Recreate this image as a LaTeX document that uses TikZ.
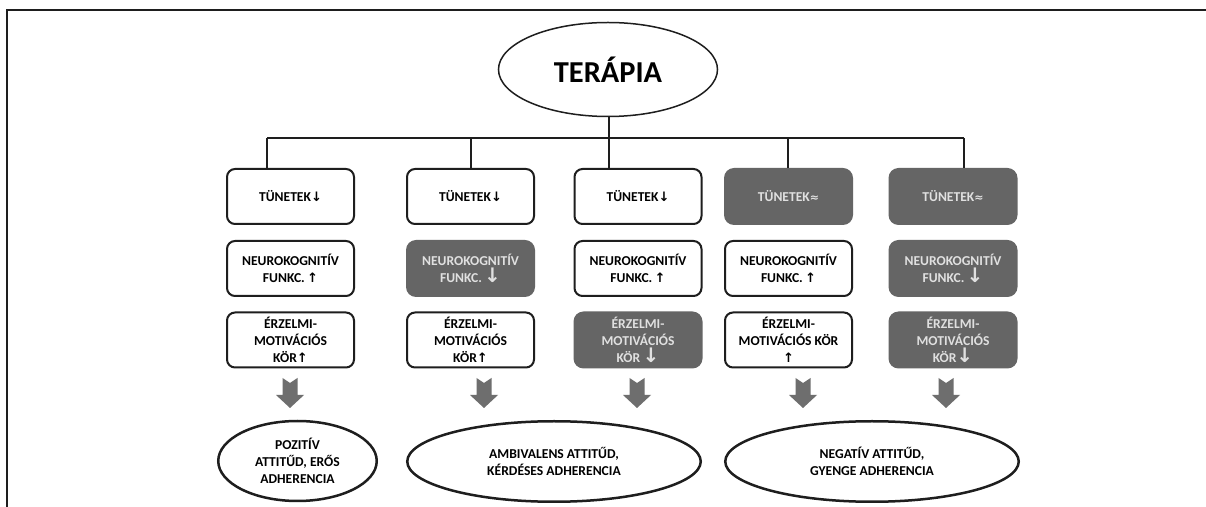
\documentclass[tikz,border=0pt]{standalone}
\usepackage{fontspec}
\setmainfont{Carlito}
\newfontfamily\symf{DejaVu Sans}
\usetikzlibrary{shapes.geometric}
\definecolor{darkfill}{HTML}{656565}
\definecolor{lightt}{HTML}{E0E0E0}
\definecolor{linec}{HTML}{1E1E1E}
\definecolor{arrowg}{HTML}{6E6E6E}
\newcommand\bxfont{\bfseries\fontsize{6.8pt}{8.5pt}\selectfont}
\newcommand\myup{{\symf\fontsize{6.5pt}{6.5pt}\selectfont ↑}}
\newcommand\mydn{{\symf\fontsize{6.5pt}{6.5pt}\selectfont ↓}}
\newcommand\mybigdn{{\symf\fontsize{10pt}{10pt}\selectfont ↓}}
\newcommand\myapprox{{\symf\fontsize{5.5pt}{5.5pt}\selectfont ≈}}
\tikzset{
  box/.style={rectangle, rounded corners=4pt, inner sep=1pt, align=center, font=\bxfont},
  wbox/.style={box, draw=linec, line width=1pt, fill=white, minimum width=63.5pt, minimum height=27.5pt},
  dbox/.style={box, fill=darkfill, text=lightt, rounded corners=5pt, minimum width=64.5pt, minimum height=28.5pt},
  conn/.style={draw=linec, line width=0.9pt},
  oval/.style={ellipse, draw=linec, line width=1.25pt, inner sep=0pt, align=center, font=\bxfont},
  barrow/.pic={\fill[arrowg] (-7.5,0) -- (0,5) -- (7.5,0) -- (7.5,17) -- (14,17) -- (0,30) -- (-14,17) -- (-7.5,17) -- cycle;}
}
\begin{document}
\begin{tikzpicture}[x=0.5pt,y=-0.5pt]
\useasboundingbox (0,0) rectangle (1206,507);
\fill[white] (0,0) rectangle (1206,507);
% frame
\draw[linec, line width=0.75pt] (7,507) -- (7,10) -- (1206,10);
% root
\node[ellipse, draw=linec, line width=0.75pt, inner sep=0pt, minimum width=109.5pt, minimum height=47pt,
      font=\bfseries\fontsize{15.2pt}{18pt}\selectfont] (t) at (608,69.5) {TERÁPIA};
% row 1
\node[wbox] (a1) at (290.5,196.5) {TÜNETEK\mydn};
\node[wbox] (a2) at (470.5,196.5) {TÜNETEK\mydn};
\node[wbox] (a3) at (638,196.5) {TÜNETEK\mydn};
\node[dbox] (a4) at (788.5,196.5) {TÜNETEK\myapprox};
\node[dbox] (a5) at (953,196.5) {TÜNETEK\myapprox};
% row 2
\node[wbox] (b1) at (290.5,268.5) {NEUROKOGNITÍV\\FUNKC.\,\myup};
\node[dbox] (b2) at (470.5,268.5) {NEUROKOGNITÍV\\FUNKC.\,\mybigdn};
\node[wbox] (b3) at (638,268.5) {NEUROKOGNITÍV\\FUNKC.\,\myup};
\node[wbox] (b4) at (788.5,268.5) {NEUROKOGNITÍV\\FUNKC.\,\myup};
\node[dbox] (b5) at (953,268.5) {NEUROKOGNITÍV\\FUNKC.\,\mybigdn};
% row 3
\node[wbox] (c1) at (290.5,340) {ÉRZELMI-\\MOTIVÁCIÓS\\KÖR\myup};
\node[wbox] (c2) at (470.5,340) {ÉRZELMI-\\MOTIVÁCIÓS\\KÖR\myup};
\node[dbox] (c3) at (638,340) {ÉRZELMI-\\MOTIVÁCIÓS\\KÖR\,\mybigdn};
\node[wbox] (c4) at (788.5,340) {ÉRZELMI-\\MOTIVÁCIÓS KÖR\\\myup};
\node[dbox] (c5) at (953,340) {ÉRZELMI-\\MOTIVÁCIÓS\\KÖR\mybigdn};
% outcomes
\node[oval, minimum width=79.25pt, minimum height=40pt] (e1) at (297.5,461) {POZITÍV\\ATTITŰD, ERŐS\\ADHERENCIA};
\node[oval, minimum width=146.75pt, minimum height=40.25pt] (e2) at (554,461.5) {AMBIVALENS ATTITŰD,\\KÉRDÉSES ADHERENCIA};
\node[oval, minimum width=146.75pt, minimum height=40.25pt] (e3) at (872,461.5) {NEGATÍV ATTITŰD,\\GYENGE ADHERENCIA};
% tree connectors
\coordinate (j1) at (267,138);
\coordinate (j2) at (471,138);
\coordinate (j3) at (609,138);
\coordinate (j4) at (788,138);
\coordinate (j5) at (964,138);
\draw[conn] (t.south -| j3) -- (j3);
\draw[conn] (j1) -- (j5);
\draw[conn] (j1) -- (j1 |- a1.north);
\draw[conn] (j2) -- (j2 |- a2.north);
\draw[conn] (j3) -- (j3 |- a3.north);
\draw[conn] (j4) -- (j4 |- a4.north);
\draw[conn] (j5) -- (j5 |- a5.north);
% block arrows
\pic at (290,378) {barrow};
\pic at (484,378) {barrow};
\pic at (637,378) {barrow};
\pic at (803,378) {barrow};
\pic at (946,378) {barrow};
\end{tikzpicture}
\end{document}
